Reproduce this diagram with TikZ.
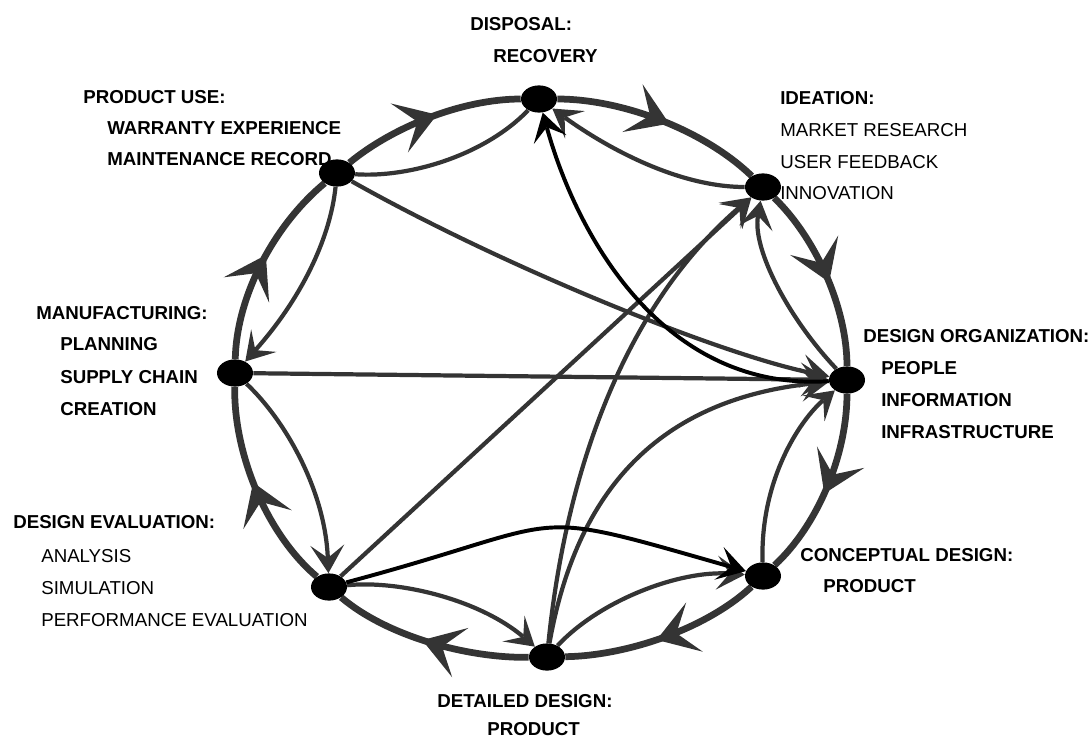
\documentclass[tikz,border=0pt]{standalone}
\usepackage{fontspec}
\setmainfont{Liberation Sans}
\usetikzlibrary{arrows.meta,decorations.markings,shapes.geometric,backgrounds}
\definecolor{dk}{RGB}{52,52,52}
\begin{document}
\begin{tikzpicture}[x=0.025cm,y=-0.025cm,
  dot/.style={ellipse,fill=black,minimum width=0.9cm,minimum height=0.68cm,inner sep=0pt},
  hdr/.style={anchor=west,inner sep=0pt,font=\fontsize{13.3}{15}\selectfont\bfseries},
  sub/.style={anchor=west,inner sep=0pt,font=\fontsize{13.3}{15}\selectfont},
  outer/.style={color=dk,line width=4.8pt,postaction={decorate},
    decoration={markings,mark=at position 0.54 with {\arrow{Stealth[length=1.0cm,width=1.3cm,inset=0.48cm,line width=0pt]}}}},
  inner/.style={color=dk,line width=3pt,-{Stealth[length=0.7cm,width=0.85cm,inset=0.32cm,line width=0pt]}},
  plain/.style={color=dk,line width=3pt},
  blk/.style={color=black,line width=2.8pt,-{Stealth[length=0.7cm,width=0.85cm,inset=0.32cm,line width=0pt]}}
]
\useasboundingbox (0,0) rectangle (1091,738);

% nodes
\node[dot] (PU) at (337,173) {};
\node[dot] (DI) at (539,99) {};
\node[dot] (ID) at (763,187) {};
\node[dot] (DO) at (847,380) {};
\node[dot] (CO) at (763,576) {};
\node[dot] (DT) at (547,657) {};
\node[dot] (EV) at (329,587) {};
\node[dot] (MF) at (235,373) {};

\begin{scope}[on background layer]
% outer cycle
\draw[outer] (PU) .. controls (393.3,126.5) and (463,99) .. (DI);
\draw[outer] (DI) .. controls (623.3,99) and (705.2,131) .. (ID);
\draw[outer] (ID) .. controls (816.5,238.8) and (847,308.9) .. (DO);
\draw[outer] (DO) .. controls (847,453) and (819,523.9) .. (CO);
\draw[outer] (CO) .. controls (706.7,628.4) and (627.4,655.7) .. (DT);
\draw[outer] (DT) .. controls (467.7,658.3) and (387,636.3) .. (EV);
\draw[outer] (EV) .. controls (265.6,533.1) and (233.5,452.1) .. (MF);
\draw[outer] (MF) .. controls (236.5,296) and (274.4,224.7) .. (PU);

% inner connectors
\draw[plain] (PU) .. controls (410,178) and (485,155) .. (DI);
\draw[inner] (ID) .. controls (680,187) and (610,150) .. (DI);
\draw[inner] (PU) .. controls (500,265) and (720,355) .. (DO);
\draw[inner] (MF) -- (DO);
\draw[inner] (DO) .. controls (790,320) and (752,250) .. (ID);
\draw[inner] (EV) -- (ID);
\draw[inner] (DT) .. controls (565,480) and (620,310) .. (ID);
\draw[inner] (DT) .. controls (575,500) and (650,400) .. (DO);
\draw[inner] (DT) .. controls (600,600) and (680,570) .. (CO);
\draw[inner] (CO) .. controls (760,480) and (800,420) .. (DO);
\draw[inner] (EV) .. controls (400,580) and (480,600) .. (DT);
\draw[inner] (MF) .. controls (285,420) and (325,490) .. (EV);
\draw[inner] (PU) .. controls (330,240) and (300,300) .. (MF);
\draw[blk] (DO) .. controls (660,392) and (575,230) .. (DI);
\draw[blk] (EV) .. controls (580,520) and (515,505) .. (CO);
\end{scope}

% labels
\node[hdr] (tDI) at (470,24) {DISPOSAL:};
\node[hdr] (tDI1) at (493,56) {RECOVERY};
\node[hdr] (tPU) at (83,97) {PRODUCT USE:};
\node[hdr] (tPU1) at (107,128) {WARRANTY EXPERIENCE};
\node[hdr] (tPU2) at (107,159) {MAINTENANCE RECORD};
\node[hdr] (tID) at (780,98) {IDEATION:};
\node[sub] (tID1) at (780,130) {MARKET RESEARCH};
\node[sub] (tID2) at (780,162) {USER FEEDBACK};
\node[sub] (tID3) at (780,193) {INNOVATION};
\node[hdr] (tMF) at (36,313) {MANUFACTURING:};
\node[hdr] (tMF1) at (60,344) {PLANNING};
\node[hdr] (tMF2) at (60,377) {SUPPLY CHAIN};
\node[hdr] (tMF3) at (60,409) {CREATION};
\node[hdr] (tDO) at (863,336) {DESIGN ORGANIZATION:};
\node[hdr] (tDO1) at (881,368) {PEOPLE};
\node[hdr] (tDO2) at (881,400) {INFORMATION};
\node[hdr] (tDO3) at (881,432) {INFRASTRUCTURE};
\node[hdr] (tCO) at (800,555) {CONCEPTUAL DESIGN:};
\node[hdr] (tCO1) at (823,586) {PRODUCT};
\node[hdr] (tEV) at (13,522) {DESIGN EVALUATION:};
\node[sub] (tEV1) at (41,556) {ANALYSIS};
\node[sub] (tEV2) at (41,588) {SIMULATION};
\node[sub] (tEV3) at (41,620) {PERFORMANCE EVALUATION};
\node[hdr] (tDT) at (437,701) {DETAILED DESIGN:};
\node[hdr] (tDT1) at (487,729) {PRODUCT};
\end{tikzpicture}
\end{document}
